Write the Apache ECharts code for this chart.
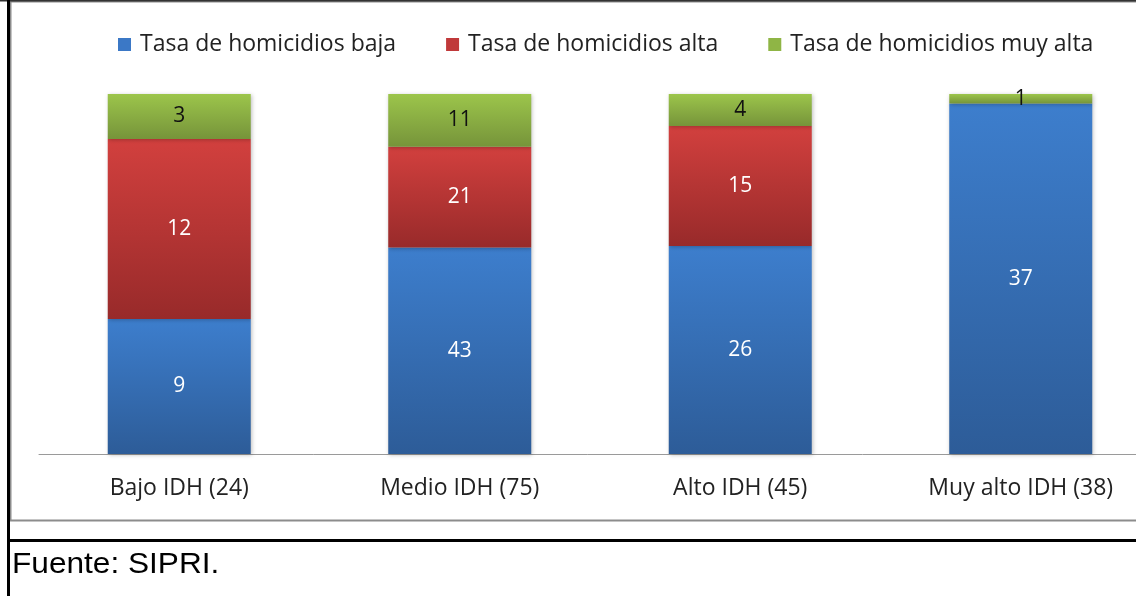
<!DOCTYPE html>
<html><head><meta charset="utf-8">
<script src="https://cdn.jsdelivr.net/npm/echarts@6/dist/echarts.min.js"></script>
<style>html,body{margin:0;padding:0;background:#fff}#c{width:1136px;height:596px}</style>
</head><body><div id="c"></div>
<script>
const categories = ['Bajo IDH (24)', 'Medio IDH (75)', 'Alto IDH (45)', 'Muy alto IDH (38)'];
const seriesNames = ['Tasa de homicidios baja', 'Tasa de homicidios alta', 'Tasa de homicidios muy alta'];
const baja = [9, 43, 26, 37];
const alta = [12, 21, 15, 0];
const muyAlta = [3, 11, 4, 1];
const footer = 'Fuente: SIPRI.';

const raw = [baja, alta, muyAlta];
const totals = categories.map((_, i) => baja[i] + alta[i] + muyAlta[i]);
const pct = raw.map(arr => arr.map((v, i) => v / totals[i] * 100));

function grad(top, bottom) {
  return {type: 'linear', x: 0, y: 0, x2: 0, y2: 1,
    colorStops: [{offset: 0, color: top}, {offset: 1, color: bottom}]};
}
const fills = [grad('#3d7ecd', '#2d5c98'), grad('#d2403e', '#982a2a'), grad('#9cc54b', '#76943a')];
const legendColors = ['#3b78c6', '#c0393a', '#8fb545'];
const labelColors = ['#ffffff', '#ffffff', '#111111'];
const FONT = '"Open Sans"';

const chart = echarts.init(document.getElementById('c'));
chart.setOption({
  animation: false,
  legend: {
    top: 28, left: 113,
    itemWidth: 13, itemHeight: 13, itemGap: 50,
    icon: 'rect',
    textStyle: {fontFamily: FONT, fontSize: 23, color: '#222', padding: [0, 0, 0, 4]},
    data: seriesNames.map((n, k) => ({name: n, itemStyle: {color: legendColors[k]}}))
  },
  grid: {left: 39, top: 94, width: 1122, height: 360, containLabel: false, outerBoundsMode: 'none'},
  xAxis: {
    type: 'category', data: categories,
    axisLine: {lineStyle: {color: '#9a9a9a', width: 1}},
    axisTick: {show: false},
    axisLabel: {fontFamily: FONT, fontSize: 23, color: '#222', margin: 23}
  },
  yAxis: {type: 'value', min: 0, max: 100, show: false, splitLine: {show: false}},
  series: seriesNames.map((n, k) => ({
    name: n, type: 'bar', stack: 'total', barWidth: 143,
    data: pct[k],
    itemStyle: {color: fills[k], shadowColor: 'rgba(0,0,0,0.25)', shadowBlur: 4, shadowOffsetX: 1, shadowOffsetY: 1},
    label: {
      show: true, position: 'inside',
      fontFamily: FONT, fontSize: 21, color: labelColors[k],
      formatter: p => raw[k][p.dataIndex] === 0 ? '' : String(raw[k][p.dataIndex])
    }
  })),
  graphic: [
    {type: 'rect', shape: {x: 10.5, y: 1.5, width: 1140, height: 519}, style: {fill: null, stroke: '#8c8c8c', lineWidth: 2}, silent: true},
    {type: 'line', shape: {x1: 0, y1: 0.5, x2: 1136, y2: 0.5}, style: {stroke: '#333', lineWidth: 2}},
    {type: 'line', shape: {x1: 8.5, y1: 0, x2: 8.5, y2: 596}, style: {stroke: '#000', lineWidth: 3}},
    {type: 'line', shape: {x1: 8, y1: 540.5, x2: 1136, y2: 540.5}, style: {stroke: '#000', lineWidth: 3}},
    {type: 'text', x: 12, y: 550, scaleX: 1.09, style: {text: footer, font: '29px "Liberation Sans", Arial', fill: '#000'}}
  ]
});
</script></body></html>
